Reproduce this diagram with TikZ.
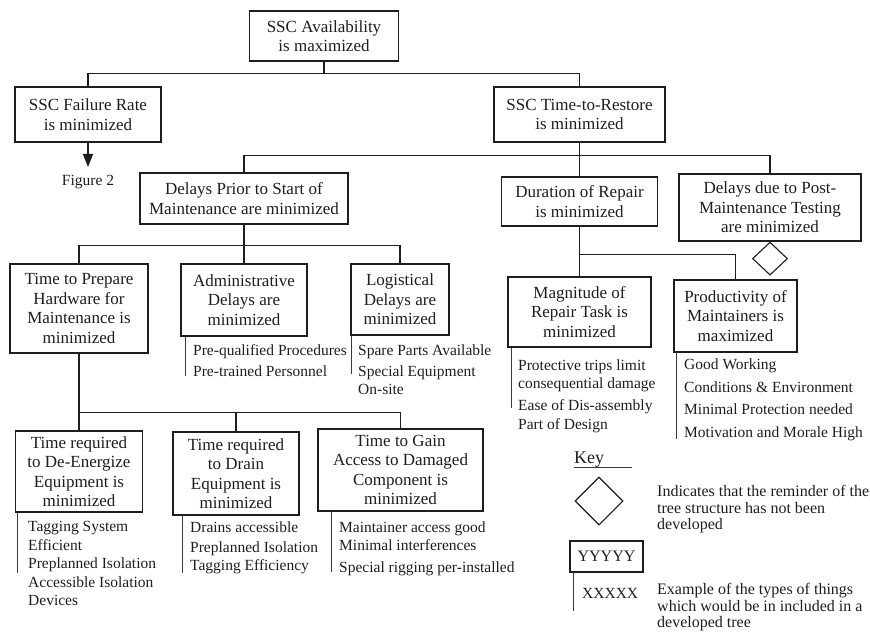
\documentclass[tikz,border=0pt]{standalone}
\usepackage{fontspec}
\setmainfont{Liberation Serif}
\usetikzlibrary{arrows.meta, positioning, shapes.geometric}
\definecolor{treeInk}{HTML}{1E1E1E}
\definecolor{barInk}{HTML}{3A3A3A}

\begin{document}
\begin{tikzpicture}[x=1pt, y=-1pt,
    goal/.style={draw=treeInk, line width=1.1pt, fill=white, align=center, text=treeInk, inner sep=2pt, font=\fontsize{17}{19.5}\selectfont},
    items/.style={align=left, anchor=north west, inner sep=0pt, text=treeInk, font=\fontsize{15.5}{18.5}\selectfont},
    keytext/.style={align=left, anchor=north west, inner sep=0pt, text=treeInk, font=\fontsize{16}{16.5}\selectfont},
    link/.style={draw=treeInk, line width=1.1pt},
    bar/.style={draw=barInk, line width=0.9pt},
    stub/.style={diamond, draw=treeInk, line width=1.1pt, fill=white, inner sep=0pt}
]
    \useasboundingbox (0,0) rectangle (870,632);

    % top of the tree
    \node[goal, minimum width=149pt, minimum height=50pt] (avail) at (324,36) {SSC Availability\\is maximized};
    \node[goal, minimum width=146pt, minimum height=55pt] (fail) at (88,114.5) {SSC Failure Rate\\is minimized};
    \node[goal, minimum width=171pt, minimum height=55pt] (restore) at (579.5,114.5) {SSC Time-to-Restore\\is minimized};
    \node[inner sep=0pt, text=treeInk, font=\fontsize{15.5}{18}\selectfont] (figref) at (88,182) {Figure 2};

    % second level
    \node[goal, minimum width=208pt, minimum height=51pt] (delays) at (244,198.5) {Delays Prior to Start of\\Maintenance are minimized};
    \node[goal, minimum width=156pt, minimum height=49pt] (duration) at (579.5,201.5) {Duration of Repair\\is minimized};
    \node[goal, minimum width=182pt, minimum height=67pt] (post) at (770,207.5) {Delays due to Post-\\Maintenance Testing\\are minimized};
    \node[stub, minimum width=35pt, minimum height=33pt, below=0pt of post] (poststub) {};

    % third level
    \node[goal, minimum width=138pt, minimum height=89pt] (prep) at (79,308.5) {Time to Prepare\\Hardware for\\Maintenance is\\minimized};
    \node[goal, minimum width=126pt, minimum height=72pt] (admin) at (244,300) {Administrative\\Delays are\\minimized};
    \node[goal, minimum width=98pt, minimum height=71pt] (logist) at (400,299.5) {Logistical\\Delays are\\minimized};
    \node[goal, minimum width=143pt, minimum height=70pt] (magnitude) at (579.5,312) {Magnitude of\\Repair Task is\\minimized};
    \node[goal, minimum width=123pt, minimum height=72pt] (product) at (735.5,316) {Productivity of\\Maintainers is\\maximized};

    % fourth level
    \node[goal, minimum width=127pt, minimum height=81pt] (deen) at (79,471.5) {Time required\\to De-Energize\\Equipment is\\minimized};
    \node[goal, minimum width=126pt, minimum height=83pt] (drain) at (236,473.5) {Time required\\to Drain\\Equipment is\\minimized};
    \node[goal, minimum width=165pt, minimum height=82pt] (gain) at (400.5,470) {Time to Gain\\Access to Damaged\\Component is\\minimized};

    % connectors
    \draw[link] (avail.south) -- ++(0,12) -| (fail.north);
    \draw[link] (avail.south) -- ++(0,12) -| (restore.north);
    \draw[link, -{Triangle[width=10pt, length=13pt]}, shorten >=8pt] (fail.south) -- (figref.north);
    \draw[link] (restore.south) -- ++(0,13) -| (delays.north);
    \draw[link] (restore.south) -- ++(0,13) -| (post.north);
    \draw[link] (restore.south) -- (duration.north);
    \draw[link] (delays.south) -- ++(0,21) -| (prep.north);
    \draw[link] (delays.south) -- ++(0,21) -| (logist.north);
    \draw[link] (delays.south) -- (admin.north);
    \draw[link] (duration.south) -- ++(0,28) -| (magnitude.north);
    \draw[link] (duration.south) -- ++(0,28) -| (product.north);
    \draw[link] (prep.south) -- ++(0,59) -| (deen.north);
    \draw[link] (prep.south) -- ++(0,59) -| (drain.north);
    \draw[link] (prep.south) -- ++(0,59) -| (gain.north);

    % things that go with each goal
    \draw[bar] ([xshift=5pt]admin.south west) -- ++(0,39);
    \node[items] (adminlist) at (193,344.5) {Pre-qualified Procedures\\[2.5pt]Pre-trained Personnel};
    \draw[bar] ([xshift=1pt]logist.south west) -- ++(0,38);
    \node[items] (logistlist) at (358,344.5) {Spare Parts Available\\[2.5pt]Special Equipment\\On-site};
    \draw[bar] ([xshift=4pt]magnitude.south west) -- ++(0,60);
    \node[items] (magnitudelist) at (518,359.5) {Protective trips limit\\consequential damage\\[3.5pt]Ease of Dis-assembly\\Part of Design};
    \draw[bar] ([xshift=3pt]product.south west) -- ++(0,86);
    \node[items] (productlist) at (684,358.5) {Good Working\\[4.5pt]Conditions \& Environment\\[4pt]Minimal Protection needed\\[4.5pt]Motivation and Morale High};
    \draw[bar] ([xshift=2pt]deen.south west) -- ++(0,60);
    \node[items] (deenlist) at (28,521.5) {Tagging System\\Efficient\\Preplanned Isolation\\Accessible Isolation\\Devices};
    \draw[bar] ([xshift=10pt]drain.south west) -- ++(0,57);
    \node[items] (drainlist) at (190,521.5) {Drains accessible\\[1.5pt]Preplanned Isolation\\Tagging Efficiency};
    \draw[bar] ([xshift=14pt]gain.south west) -- ++(0,60);
    \node[items] (gainlist) at (339,521.5) {Maintainer access good\\Minimal interferences\\[3pt]Special rigging per-installed};

    % key
    \node[anchor=base west, inner sep=0pt, text=treeInk, font=\fontsize{18}{20}\selectfont] (keylabel) at (574,463) {Key};
    \draw[bar] ([yshift=-4pt]keylabel.base west) -- ++(58,0);
    \node[stub, minimum width=48pt, minimum height=48pt] (keystub) at (599,501) {};
    \node[keytext] (keystubtext) at (657,485.5) {Indicates that the reminder of the\\tree structure has not been\\developed};
    \node[goal, font=\fontsize{16}{18}\selectfont, minimum width=73pt, minimum height=31pt] (keybox) at (606.5,556.5) {YYYYY};
    \draw[bar] ([xshift=4pt]keybox.south west) -- ++(0,38);
    \node[anchor=base west, inner sep=0pt, text=treeInk, font=\fontsize{15.5}{18.5}\selectfont] (keyitem) at (582,598) {XXXXX};
    \node[keytext] (keyboxtext) at (657,583.5) {Example of the types of things\\which would be in included in a\\developed tree};
\end{tikzpicture}
\end{document}
